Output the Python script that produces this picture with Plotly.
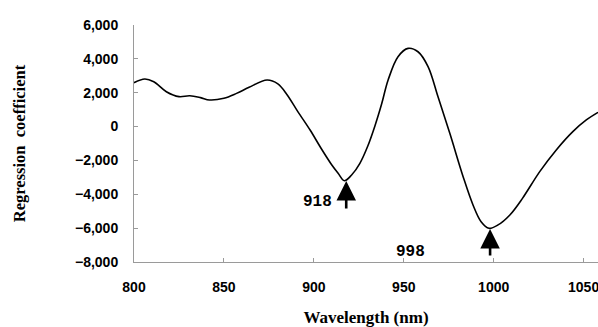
import plotly.graph_objects as go

wavelength = [800, 806, 811, 818, 825, 831, 837, 842, 850, 857, 864, 874, 880, 885, 891,
              898, 904, 910, 913.5, 917, 921, 925.6, 930, 934, 937.6, 941.3, 946.8, 952.4,
              957.9, 963.5, 969, 975.6, 983, 988.5, 993, 997.4, 1002.4, 1009, 1016, 1025.6,
              1034.8, 1044, 1051.5, 1058]
coefficient = [2590, 2810, 2650, 2060, 1770, 1820, 1710, 1570, 1670, 1960, 2320, 2750, 2520, 1900, 900,
               -220, -1280, -2270, -2760, -3200, -2860, -2170, -1150, 50, 1300, 2750, 4130, 4620,
               4420, 3540, 1770, -400, -2960, -4630, -5620, -6010, -5810, -5220, -4240, -2660,
               -1380, -300, 390, 840]

y_ticks = [6000, 4000, 2000, 0, -2000, -4000, -6000, -8000]
x_ticks = [800, 850, 900, 950, 1000, 1050]

peaks = [918, 998]
peak_tip = [-3215, -6050]
peak_tail = [-4930, -7700]
label_x = [902, 954]
label_y = [-4455, -7409]

fig = go.Figure()
fig.add_trace(go.Scatter(x=wavelength, y=coefficient, mode="lines",
                         line=dict(color="black", width=1.6, shape="spline", smoothing=1.0),
                         showlegend=False, hoverinfo="skip"))

for px, tip, tail, lx, ly in zip(peaks, peak_tip, peak_tail, label_x, label_y):
    fig.add_annotation(x=px, y=tip, ax=px, ay=tail, axref="x", ayref="y", xref="x", yref="y",
                       showarrow=True, arrowhead=2, arrowsize=1.5, arrowwidth=2.6,
                       arrowcolor="black", text="")
    fig.add_annotation(x=lx, y=ly, xref="x", yref="y", text=str(px), showarrow=False,
                       font=dict(family="Liberation Mono", size=16, color="black", weight="bold"))

axis_color = "#9a9a9a"
fig.update_xaxes(range=[800, 1058], tickvals=x_ticks, ticks="inside", ticklen=4,
                 tickcolor=axis_color, showline=True, linecolor=axis_color, linewidth=1,
                 showgrid=False, zeroline=False, ticklabelstandoff=12, ticklabeloverflow="allow",
                 tickfont=dict(family="Liberation Sans", size=14, color="black", weight="bold"),
                 title=dict(text="Wavelength (nm)", standoff=19,
                            font=dict(family="Liberation Serif", size=17, color="black", weight="bold")))
fig.update_yaxes(range=[-8000, 6000], tickvals=y_ticks, tickformat=",", ticks="inside", ticklen=4,
                 tickcolor=axis_color, showline=True, linecolor=axis_color, linewidth=1,
                 showgrid=False, zeroline=False, ticklabelstandoff=12,
                 tickfont=dict(family="Liberation Sans", size=14, color="black", weight="bold"),
                 title=dict(text="Regression  coefficient", standoff=45,
                            font=dict(family="Liberation Serif", size=16.5, color="black", weight="bold")))

fig.update_layout(width=598, height=327, margin=dict(l=134, r=0, t=25, b=65),
                  plot_bgcolor="white", paper_bgcolor="white")

fig.write_html("out.html")
